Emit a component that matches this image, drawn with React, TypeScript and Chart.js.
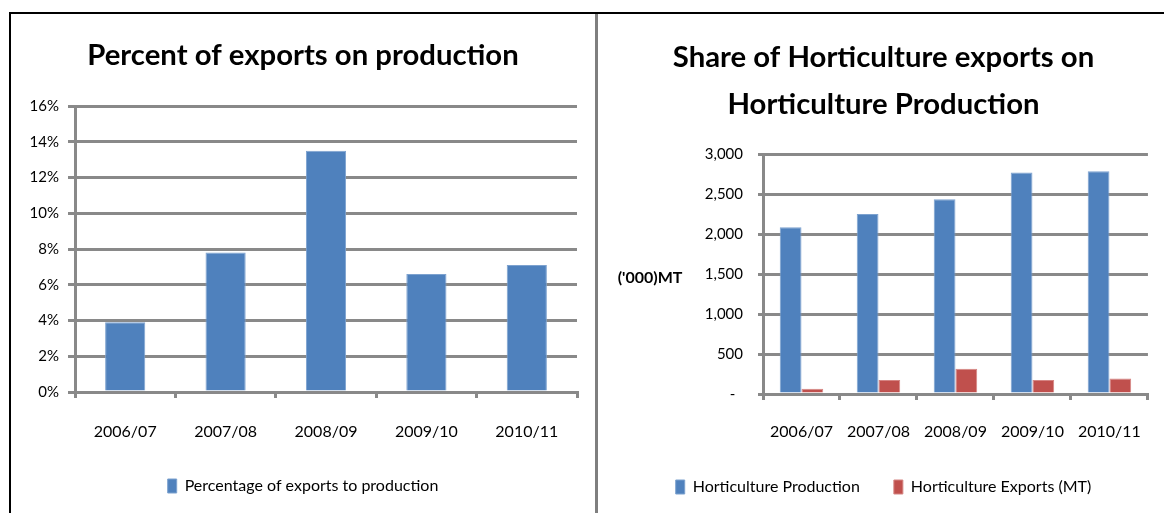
import React, { useEffect, useRef } from "react";
import { Chart, registerables } from "chart.js";

Chart.register(...registerables);

const categories = ["2006/07", "2007/08", "2008/09", "2009/10", "2010/11"];
const percentExportsToProduction = [3.9, 7.8, 13.5, 6.6, 7.1];
const horticultureProduction = [2085, 2250, 2435, 2770, 2785];
const horticultureExports = [65, 175, 315, 175, 195];

const leftTitle = "Percent of exports on production";
const rightTitle = ["Share of Horticulture exports on", "Horticulture Production"];
const leftSeriesLabel = "Percentage of exports to production";
const productionLabel = "Horticulture Production";
const exportsLabel = "Horticulture Exports (MT)";
const rightAxisTitle = "('000)MT";

const FONT = "Lato, 'Liberation Sans', sans-serif";
const GRID = "#898989";
const BLUE = "#4F81BD";
const BLUE_EDGE = "#7DA2CF";
const RED = "#C0504D";
const RED_EDGE = "#D58583";
const TITLE_SIZE = 29.3;

const horizontalAxisTitle = {
  id: "horizontalAxisTitle",
  afterDraw(chart: any, _args: any, opts: any) {
    if (!opts || !opts.text) return;
    const { ctx, chartArea } = chart;
    ctx.save();
    ctx.font = `bold 16px ${FONT}`;
    ctx.fillStyle = "#000";
    ctx.textAlign = "center";
    ctx.textBaseline = "middle";
    ctx.fillText(opts.text, chartArea.left - opts.dx, (chartArea.top + chartArea.bottom) / 2 + opts.dy);
    ctx.restore();
  },
};

function LeftChart() {
  const ref = useRef<HTMLCanvasElement>(null);
  useEffect(() => {
    const chart = new Chart(ref.current as HTMLCanvasElement, {
      type: "bar",
      data: {
        labels: categories,
        datasets: [
          {
            label: leftSeriesLabel,
            data: percentExportsToProduction,
            backgroundColor: BLUE,
            borderColor: BLUE_EDGE,
            borderWidth: 1,
            barPercentage: 0.4,
            categoryPercentage: 1,
          },
        ],
      },
      options: {
        responsive: false,
        animation: false,
        layout: { padding: { left: 18, right: 18, top: 0, bottom: 9 } },
        plugins: {
          title: {
            display: true,
            text: leftTitle,
            color: "#000",
            font: { family: FONT, size: TITLE_SIZE, weight: "bold", lineHeight: 40 / TITLE_SIZE },
            padding: { top: 22, bottom: 30 },
          },
          legend: {
            position: "bottom",
            labels: {
              boxWidth: 9,
              boxHeight: 14,
              padding: 10,
              color: "#000",
              font: { family: FONT, size: 16 },
            },
          },
          tooltip: { enabled: false },
        },
        scales: {
          x: {
            grid: { display: true, drawOnChartArea: false, drawTicks: true, tickLength: 6, color: GRID, lineWidth: 3, offset: true },
            border: { display: true, color: GRID, width: 3 },
            ticks: { color: "#000", font: { family: FONT, size: 16 }, padding: 24, maxRotation: 0, autoSkip: false },
            afterFit(s: any) { s.height = 76; },
          },
          y: {
            min: 0,
            max: 16,
            ticks: { stepSize: 2, color: "#000", font: { family: FONT, size: 15 }, padding: 9, callback: (v: any) => `${v}%` },
            grid: { color: GRID, lineWidth: 3, tickLength: 7 },
            border: { display: true, color: GRID, width: 3 },
            afterFit(s: any) { s.width = 46; },
          },
        },
      } as any,
    });
    return () => chart.destroy();
  }, []);
  return <canvas ref={ref} width={584} height={499} style={{ position: "absolute", left: 11, top: 14, width: 584, height: 499 }} />;
}

function RightChart() {
  const ref = useRef<HTMLCanvasElement>(null);
  useEffect(() => {
    const chart = new Chart(ref.current as HTMLCanvasElement, {
      type: "bar",
      data: {
        labels: categories,
        datasets: [
          {
            label: productionLabel,
            data: horticultureProduction,
            backgroundColor: BLUE,
            borderColor: BLUE_EDGE,
            borderWidth: 1,
            barPercentage: 1,
            categoryPercentage: 0.565,
          },
          {
            label: exportsLabel,
            data: horticultureExports,
            backgroundColor: RED,
            borderColor: RED_EDGE,
            borderWidth: 1,
            barPercentage: 1,
            categoryPercentage: 0.565,
          },
        ],
      },
      plugins: [horizontalAxisTitle],
      options: {
        responsive: false,
        animation: false,
        layout: { padding: { left: 16, right: 11, top: 0, bottom: 8 } },
        plugins: {
          title: {
            display: true,
            text: rightTitle,
            color: "#000",
            font: { family: FONT, size: TITLE_SIZE, weight: "bold", lineHeight: 47 / TITLE_SIZE },
            padding: { top: 20, bottom: 26 },
          },
          legend: {
            position: "bottom",
            labels: {
              boxWidth: 9,
              boxHeight: 14,
              padding: 34,
              color: "#000",
              font: { family: FONT, size: 16 },
            },
          },
          tooltip: { enabled: false },
          horizontalAxisTitle: { text: rightAxisTitle, dx: 113, dy: 4 },
        },
        scales: {
          x: {
            grid: { display: true, drawOnChartArea: false, drawTicks: true, tickLength: 6, color: GRID, lineWidth: 3, offset: true },
            border: { display: true, color: GRID, width: 3 },
            ticks: { color: "#000", font: { family: FONT, size: 16 }, padding: 22, maxRotation: 0, autoSkip: false },
            afterFit(s: any) { s.height = 51; },
          },
          y: {
            min: 0,
            max: 3000,
            ticks: {
              stepSize: 500,
              color: "#000",
              font: { family: FONT, size: 15 },
              padding: 15,
              callback: (v: any) => (v === 0 ? "-  " : Number(v).toLocaleString("en-US")),
            },
            grid: { color: GRID, lineWidth: 3, tickLength: 5 },
            border: { display: true, color: GRID, width: 3 },
            afterFit(s: any) { s.width = 149; },
          },
        },
      } as any,
    });
    return () => chart.destroy();
  }, []);
  return <canvas ref={ref} width={566} height={499} style={{ position: "absolute", left: 598, top: 14, width: 566, height: 499 }} />;
}

export default function App() {
  return (
    <div style={{ position: "fixed", left: 0, top: 0, width: 1164, height: 513, overflow: "hidden", background: "#fff" }}>
      <div style={{ position: "absolute", left: 9, top: 12, width: 1155, height: 2, background: "#000" }} />
      <div style={{ position: "absolute", left: 9, top: 12, width: 2, height: 501, background: "#000" }} />
      <div style={{ position: "absolute", left: 595, top: 14, width: 3, height: 499, background: "#7f7f7f" }} />
      <LeftChart />
      <RightChart />
    </div>
  );
}
